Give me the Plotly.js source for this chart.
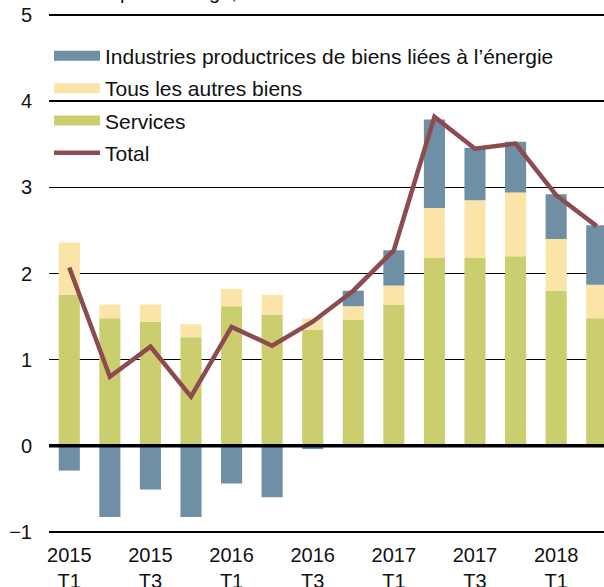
<!DOCTYPE html>
<html>
<head>
<meta charset="utf-8">
<script src="https://cdn.plot.ly/plotly-3.0.1.min.js"></script>
<style>
  html, body { margin: 0; padding: 0; background: #fff; overflow: hidden; }
  #chart { width: 620px; height: 600px; }
</style>
</head>
<body>
<div id="chart"></div>
<script>
// quarters, 2015 T1 .. 2018 T2
const quarters = ["2015 T1", "2015 T2", "2015 T3", "2015 T4", "2016 T1", "2016 T2", "2016 T3",
                  "2016 T4", "2017 T1", "2017 T2", "2017 T3", "2017 T4", "2018 T1", "2018 T2"];
const tickLabels = ["2015<br>T1", "", "2015<br>T3", "", "2016<br>T1", "", "2016<br>T3",
                    "", "2017<br>T1", "", "2017<br>T3", "", "2018<br>T1", ""];

const services = [1.75, 1.48, 1.44, 1.26, 1.62, 1.52, 1.35, 1.46, 1.64, 2.18, 2.18, 2.20, 1.80, 1.48];
const autresBiens = [0.61, 0.16, 0.20, 0.15, 0.20, 0.23, 0.13, 0.16, 0.22, 0.58, 0.67, 0.74, 0.60, 0.39];
const energie = [-0.29, -0.83, -0.51, -0.83, -0.44, -0.60, -0.04, 0.18, 0.41, 1.03, 0.61, 0.59, 0.52, 0.69];
const total = [2.07, 0.80, 1.15, 0.57, 1.38, 1.16, 1.44, 1.80, 2.27, 3.82, 3.45, 3.51, 2.91, 2.55];

const names = ["Industries productrices de biens liées à l’énergie", "Tous les autres biens", "Services", "Total"];
const colors = { energie: "#6F8FA4", autres: "#FAE4A8", services: "#CBCE6E", total: "#8C4B4E" };

const fontFam = "Liberation Sans, Arial, sans-serif";

// bars (legend shown through wide-line proxies below)
const bar = (y, color, grp) => ({
  type: "bar", x: quarters, y: y, marker: { color: color, line: { width: 0 } },
  showlegend: false, legendgroup: grp, hoverinfo: "y"
});
const proxy = (name, color, grp, w) => ({
  type: "scatter", mode: "lines", x: [null], y: [null], name: name,
  line: { color: color, width: w }, legendgroup: grp, showlegend: true
});

const data = [
  bar(services, colors.services, "s"),
  bar(autresBiens, colors.autres, "a"),
  bar(energie, colors.energie, "e"),
  {
    type: "scatter", mode: "lines", x: quarters, y: total, name: names[3],
    line: { color: colors.total, width: 4.5 }, legendgroup: "t", showlegend: false
  },
  proxy(names[0], colors.energie, "e", 10),
  proxy(names[1], colors.autres, "a", 10),
  proxy(names[2], colors.services, "s", 10),
  proxy(names[3], colors.total, "t", 4.5)
];

const layout = {
  width: 620, height: 600,
  margin: { l: 49, r: 3, t: 10.5, b: 63.7 },
  paper_bgcolor: "#fff", plot_bgcolor: "#fff",
  font: { family: fontFam, size: 20, color: "#111" },
  barmode: "relative", bargap: 0.48,
  showlegend: true,
  legend: {
    x: 0, y: 0.953, xanchor: "left", yanchor: "top",
    bgcolor: "rgba(0,0,0,0)", traceorder: "grouped", tracegroupgap: 2,
    itemwidth: 46,
    font: { family: fontFam, size: 21, color: "#111" }
  },
  xaxis: {
    type: "category", range: [-0.5, 13.5], tickmode: "array",
    tickvals: quarters, ticktext: tickLabels,
    showgrid: false, zeroline: false, showline: false, ticks: "",
    ticklabelstandoff: 5,
    tickfont: { size: 20 }, fixedrange: true
  },
  yaxis: {
    range: [-1.05, 5.05], tickvals: [-1, 0, 1, 2, 3, 4, 5],
    showgrid: true, gridcolor: "#000", gridwidth: 1.8,
    zeroline: false, showline: false, ticks: "", ticklabelstandoff: 16,
    tickfont: { size: 20 }, fixedrange: true
  },
  shapes: [
    { type: "line", xref: "paper", yref: "y", x0: 0, x1: 1, y0: 0, y1: 0,
      line: { color: "#000", width: 3.5 }, layer: "above" }
  ],
  annotations: [
    { xref: "paper", yref: "paper", x: 0.069, y: 1.0105, xanchor: "left", yanchor: "bottom",
      text: "En pourcentage, d’une année à l’autre", showarrow: false,
      font: { family: fontFam, size: 20, color: "#111" } }
  ]
};

Plotly.newPlot("chart", data, layout, { displayModeBar: false, staticPlot: true });
</script>
</body>
</html>
